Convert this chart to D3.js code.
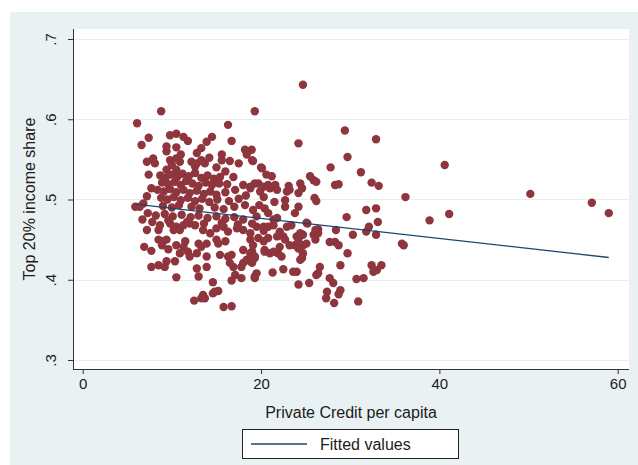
<!DOCTYPE html>
<html>
<head>
<meta charset="utf-8">
<script src="https://cdn.jsdelivr.net/npm/d3@7"></script>
<style>
  html, body { margin: 0; padding: 0; background: #ffffff; }
  svg { display: block; }
  text { font-family: "Liberation Sans", Arial, sans-serif; fill: #1b1b1b; }
</style>
</head>
<body>
<svg id="chart" width="638" height="465"></svg>
<script>
// Private credit per capita vs. top 20% income share, one [credit, share] pair per observation
const observations = [
  [24.7,.643],[8.8,.610],[19.3,.610],[6.1,.595],[16.3,.593],[24.2,.570],[29.4,.586],[32.9,.575],
  [29.7,.553],[27.8,.540],[31.2,.534],[25.5,.529],[25.9,.524],[26.2,.522],[28.3,.518],[28.7,.519],
  [32.4,.521],[33.2,.517],[36.2,.503],[40.6,.543],[26.0,.502],[26.2,.498],[29.6,.478],[31.8,.487],
  [32.9,.489],[33.1,.472],[32.1,.466],[38.9,.474],[41.1,.482],[50.2,.507],[57.1,.496],[59.0,.483],
  [18.95,.562],[19.1,.548],[20.0,.540],[20.6,.531],[21.2,.529],[18.8,.516],[19.7,.520],[20.8,.518],
  [21.0,.514],[21.6,.518],[21.8,.512],[23.1,.517],[23.2,.512],[22.9,.510],[24.4,.520],[24.6,.514],
  [24.2,.508],[19.9,.510],[20.3,.503],[22.7,.499],[22.7,.491],[24.2,.491],[19.1,.487],[20.4,.489],
  [20.8,.483],[23.8,.483],[25.1,.471],[26.4,.463],[21.4,.475],[21.8,.477],[19.5,.479],
  [25.2,.470],[31.8,.460],[32.9,.456],[30.3,.456],[28.4,.462],[26.4,.458],[25.9,.456],[26.1,.450],
  [27.7,.447],[28.3,.447],[28.7,.443],[24.7,.456],[36.0,.443],[35.8,.445],[29.7,.433],[28.9,.418],
  [32.4,.418],[33.0,.412],[33.5,.418],[32.6,.410],[30.7,.401],[31.5,.402],[30.9,.373],[26.6,.416],
  [26.4,.408],[26.2,.406],[27.7,.402],[28.1,.396],[28.9,.387],[28.7,.382],[27.4,.385],[27.3,.377],
  [28.2,.371],[25.4,.396],[24.2,.394],[22.5,.413],[23.6,.410],[24.0,.410],[21.3,.409],[19.3,.404],
  [19.5,.408],[19.0,.421],[24.7,.433],[24.6,.427],[24.4,.425],[24.7,.443],[25.1,.445],[23.8,.443],
  [24.2,.439],[22.1,.441],[21.9,.433],[22.3,.429],[23.2,.443],[20.4,.435],[21.0,.433],[21.4,.435],
  [19.0,.435],[19.3,.429],[19.7,.452],[18.8,.450],[19.1,.443],[20.8,.452],[21.8,.454],[22.5,.454],
  [22.7,.450],[22.1,.460],[22.9,.466],[24.0,.454],[24.4,.458],[24.2,.450],[20.3,.466],[20.8,.466],
  [21.4,.468],[23.4,.468],[26.1,.462],
  [8.67,.468],[8.5,.462],[9.8,.470],[10.5,.466],[11.3,.468],[12.0,.470],[12.6,.468],[10.2,.462],
  [10.9,.462],[13.5,.462],[14.3,.458],[15.0,.464],[15.8,.466],[16.3,.460],[17.3,.464],[18.0,.462],
  [18.8,.458],[19.5,.466],[20.3,.461],[6.9,.441],[7.7,.436],[8.5,.450],[9.0,.448],[9.4,.450],
  [8.9,.443],[9.6,.438],[10.5,.443],[11.3,.441],[11.5,.448],[10.9,.433],[11.8,.435],[12.0,.429],
  [12.8,.433],[13.0,.445],[13.3,.441],[13.9,.445],[13.9,.429],[15.0,.450],[15.2,.445],[16.0,.448],
  [15.4,.431],[16.3,.429],[16.7,.431],[16.5,.421],[16.9,.416],[18.0,.437],[18.8,.433],[18.4,.425],
  [19.3,.427],[18.0,.421],[17.8,.416],[19.3,.402],[17.1,.406],[16.7,.399],[17.8,.402],[18.8,.423],
  [20.4,.437],[20.3,.448],[7.7,.416],[8.5,.418],[9.2,.416],[9.4,.423],[10.35,.423],[10.5,.403],
  [12.8,.414],[13.9,.416],[13.0,.404],[14.6,.397],[14.8,.385],[15.2,.386],[14.6,.383],[13.5,.381],
  [13.7,.377],[13.3,.377],[12.5,.374],[15.8,.366],[16.7,.367],
  [9.8,.580],[10.5,.582],[11.3,.578],[11.8,.573],[7.4,.577],[14.5,.578],[13.9,.572],[16.7,.573],
  [6.6,.568],[9.4,.566],[10.5,.565],[13.3,.564],[12.8,.558],[9.4,.560],[18.2,.562],[18.4,.556],
  [19.0,.549],[15.6,.556],[15.6,.549],[7.9,.551],[7.2,.547],[8.1,.545],[9.8,.549],[10.5,.551],
  [10.9,.547],[10.0,.543],[12.2,.547],[12.8,.545],[13.3,.549],[13.7,.545],[12.6,.541],[7.4,.531],
  [9.4,.537],[10.5,.537],[16.0,.535],[16.9,.528],[20.1,.539],[18.0,.518],[18.8,.514],[19.3,.520],
  [20.3,.516],[7.7,.514],[7.2,.504],[5.9,.491],[6.4,.491],
  [8.7,.530],[9.3,.527],[9.9,.531],[10.6,.528],[11.2,.532],[11.9,.529],[12.6,.533],[13.3,.527],
  [14.0,.530],[14.7,.526],[15.4,.528],[8.9,.521],[9.6,.519],[10.3,.522],[11.0,.518],[11.6,.523],
  [12.3,.520],[13.0,.517],[13.8,.521],[14.5,.518],[15.3,.520],[16.2,.519],[8.4,.512],[9.1,.510],
  [9.8,.513],[10.5,.509],[11.3,.512],[12.0,.508],[12.8,.511],[13.6,.507],[14.3,.510],[15.0,.506],
  [16.0,.509],[17.1,.512],[8.8,.502],[9.5,.500],[10.2,.503],[11.0,.499],[11.8,.502],[12.6,.498],
  [13.4,.501],[14.2,.497],[15.1,.500],[16.4,.498],[17.5,.501],[18.3,.505],[9.0,.492],[10.0,.490],
  [10.8,.493],[12.2,.491],[13.1,.489],[14.8,.490],[15.8,.488],[17.0,.491],[18.2,.493],
  [7.3,.483],[8.2,.480],[9.2,.482],[10.1,.479],[11.1,.481],[12.1,.478],[13.0,.480],[14.0,.477],
  [15.0,.479],[16.0,.476],[17.0,.478],[18.0,.475],[19.8,.493],[21.5,.497],[7.8,.472],[9.6,.474],
  [11.7,.472],[13.6,.470],[15.6,.471],[17.4,.469],[19.0,.470],[7.2,.462],[6.7,.475],[6.8,.495],
  [14.2,.552],[11.0,.556],[15.0,.540],[17.5,.545],[16.5,.548]
];

// Linear fit of share on credit
const fitIntercept = 0.5015;
const fitSlope = -0.00125;

const xTicks = [0, 20, 40, 60];
const yTicks = [0.3, 0.4, 0.5, 0.6, 0.7];
const yTickLabels = [".3", ".4", ".5", ".6", ".7"];

const svg = d3.select("#chart");
const W = 638, H = 465;
const FONT = '"Liberation Sans", Arial, sans-serif';

// graph region and plot region
const plot = { left: 73, right: 629, top: 29, bottom: 369 };

svg.append("rect").attr("x", 10).attr("y", 12).attr("width", W - 10).attr("height", H - 12)
  .attr("fill", "#eaf1f3");
svg.append("rect").attr("x", plot.left).attr("y", plot.top)
  .attr("width", plot.right - plot.left).attr("height", plot.bottom - plot.top)
  .attr("fill", "#ffffff");

const x = d3.scaleLinear().domain([0, 60]).range([82.7, 617.7]);
const y = d3.scaleLinear().domain([0.3, 0.7]).range([360, 39]);

// horizontal grid lines
svg.append("g").selectAll("line").data(yTicks).join("line")
  .attr("x1", plot.left + 1).attr("x2", plot.right)
  .attr("y1", d => Math.round(y(d)) + 0.5).attr("y2", d => Math.round(y(d)) + 0.5)
  .attr("stroke", "#e6eff0").attr("stroke-width", 1);

// scatter markers
svg.append("g").selectAll("circle").data(observations).join("circle")
  .attr("cx", d => x(d[0])).attr("cy", d => y(d[1])).attr("r", 4.2)
  .attr("fill", "#8e353d");

// fitted line over the observed credit range
const xExtent = d3.extent(observations, d => d[0]);
const fitted = xExtent.map(v => [v, fitIntercept + fitSlope * v]);
svg.append("path").datum(fitted)
  .attr("d", d3.line().x(d => x(d[0])).y(d => y(d[1])))
  .attr("fill", "none").attr("stroke", "#1a476f").attr("stroke-width", 1.3);

// axes
const xAxis = svg.append("g").attr("transform", `translate(0,${plot.bottom})`)
  .call(d3.axisBottom(x).tickValues(xTicks).tickSize(5).tickPadding(4).tickSizeOuter(0));
xAxis.select(".domain").remove();
xAxis.selectAll("line").attr("stroke", "#333");
xAxis.selectAll("text").attr("font-size", 15).attr("fill", "#1b1b1b")
  .style("font-family", FONT);

const yAxis = svg.append("g").attr("transform", `translate(${plot.left},0)`)
  .call(d3.axisLeft(y).tickValues(yTicks).tickFormat((d, i) => yTickLabels[i]).tickSize(5).tickSizeOuter(0));
yAxis.select(".domain").remove();
yAxis.selectAll("line").attr("stroke", "#333");
yAxis.selectAll("text")
  .attr("x", -23).attr("dy", null).attr("text-anchor", "middle")
  .attr("dominant-baseline", "central")
  .attr("transform", "rotate(-90,-23,0)")
  .attr("font-size", 15).attr("fill", "#1b1b1b")
  .style("font-family", FONT);

svg.append("line").attr("x1", plot.left + 0.5).attr("x2", plot.left + 0.5)
  .attr("y1", plot.top).attr("y2", plot.bottom + 0.5).attr("stroke", "#333");
svg.append("line").attr("x1", plot.left).attr("x2", plot.right)
  .attr("y1", plot.bottom + 0.5).attr("y2", plot.bottom + 0.5).attr("stroke", "#333");

// axis titles
svg.append("text").attr("x", (plot.left + plot.right) / 2).attr("y", 412)
  .attr("text-anchor", "middle").attr("dominant-baseline", "central")
  .attr("font-size", 16).text("Private Credit per capita");
svg.append("text").attr("transform", `translate(29,${(plot.top + plot.bottom) / 2}) rotate(-90)`)
  .attr("text-anchor", "middle").attr("dominant-baseline", "central")
  .attr("font-size", 16).text("Top 20% income share");

// legend
const lg = svg.append("g");
lg.append("rect").attr("x", 242.5).attr("y", 429.5).attr("width", 216).attr("height", 29)
  .attr("fill", "#ffffff").attr("stroke", "#222");
lg.append("line").attr("x1", 251).attr("x2", 307).attr("y1", 444).attr("y2", 444)
  .attr("stroke", "#1a476f").attr("stroke-width", 1.3);
lg.append("text").attr("x", 320).attr("y", 444).attr("dominant-baseline", "central")
  .attr("font-size", 16).text("Fitted values");
</script>
</body>
</html>
